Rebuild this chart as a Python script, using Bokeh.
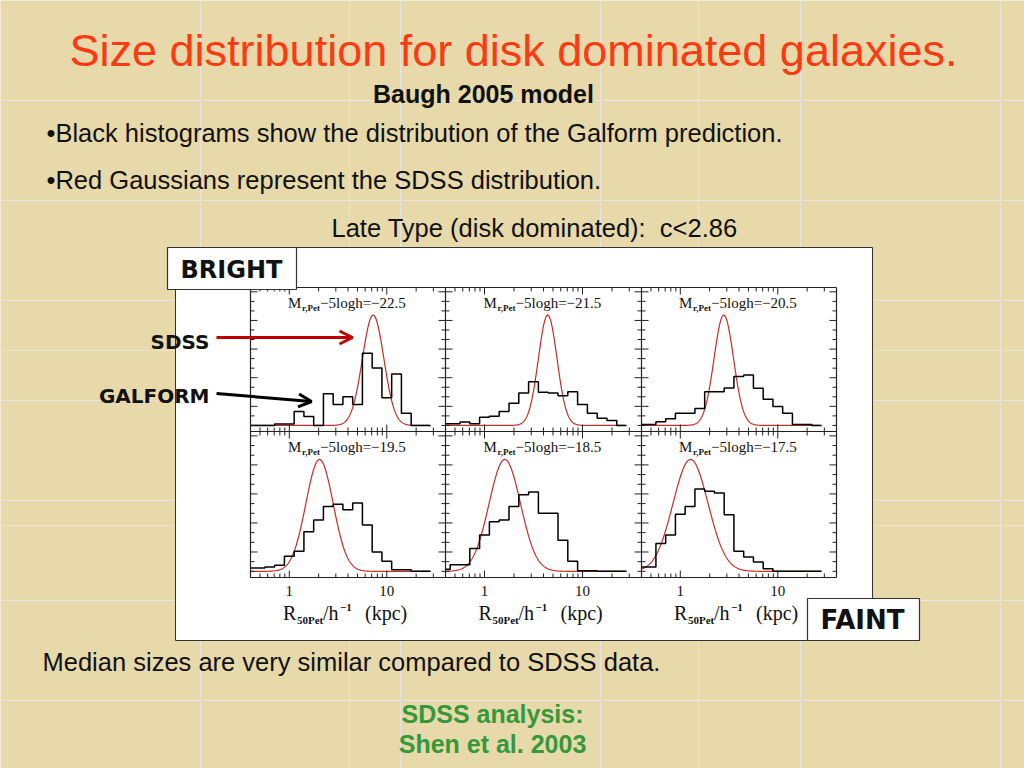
import numpy as np
from bokeh.plotting import figure
from bokeh.models import Range1d, LogScale, Arrow, OpenHead
from bokeh.core.properties import value
from bokeh.embed import file_html
from bokeh.resources import INLINE

# ---------------- data ----------------
magnitude_labels = ["\u221222.5", "\u221221.5", "\u221220.5", "\u221219.5", "\u221218.5", "\u221217.5"]
log_r_bin_centres = [-0.4, -0.3, -0.2, -0.1, 0.0, 0.1, 0.2, 0.3, 0.4, 0.5,
                     0.6, 0.7, 0.8, 0.9, 1.0, 1.1, 1.2, 1.3, 1.4]
log_r_bin_width = 0.1

# GALFORM histograms (relative frequency, SDSS peak = 1)
galform_m225 = [0.0, 0.0, 0.0, 0.012, 0.012, 0.126, 0.081, 0.0, 0.286, 0.189,
                0.261, 0.189, 0.655, 0.52, 0.25, 0.466, 0.111, 0.0, 0.0]
galform_m215 = [0.015, 0.015, 0.03, 0.015, 0.075, 0.084, 0.126, 0.2, 0.294, 0.396,
                0.3, 0.294, 0.27, 0.306, 0.189, 0.111, 0.066, 0.045, 0.0]
galform_m205 = [0.009, 0.009, 0.033, 0.06, 0.111, 0.111, 0.153, 0.306, 0.306, 0.339,
                0.444, 0.456, 0.336, 0.237, 0.171, 0.111, 0.009, 0.009, 0.0]
galform_m195 = [0.03, 0.03, 0.039, 0.054, 0.135, 0.18, 0.354, 0.459, 0.58, 0.6,
                0.55, 0.61, 0.414, 0.174, 0.09, 0.015, 0.015, 0.0, 0.0]
galform_m185 = [0.018, 0.06, 0.06, 0.204, 0.324, 0.444, 0.459, 0.58, 0.685, 0.709,
                0.52, 0.52, 0.279, 0.09, 0.006, 0.006, 0.0, 0.0, 0.0]
galform_m175 = [0.039, 0.039, 0.25, 0.324, 0.51, 0.58, 0.736, 0.715, 0.7, 0.505,
                0.18, 0.129, 0.084, 0.024, 0.0, 0.0, 0.0, 0.0, 0.0]
galform_hists = [galform_m225, galform_m215, galform_m205,
                 galform_m195, galform_m185, galform_m175]

# SDSS Gaussians (in log10 R): peak position, width, height
sdss_peak_log_r = [0.86, 0.645, 0.446, 0.31, 0.207, 0.105]
sdss_sigma_dex = [0.11, 0.095, 0.10, 0.14, 0.16, 0.18]
sdss_peak_height = [1.0, 1.0, 1.0, 1.0, 1.0, 1.0]

x_major_ticks = [1, 10]
x_tick_labels = ["1", "10"]
x_minor_ticks = [0.5, 0.6, 0.7, 0.8, 0.9, 2, 3, 4, 5, 6, 7, 8, 9, 20, 30]

# ---------------- layout / style ----------------
W, H = 1024, 768
X0, Y0 = 0, 0                      # data coords == screen pixels
COL_EDGES = [250, 445, 641, 836]
ROW_EDGES = [287, 431, 577]
X_MIN, X_MAX = 0.4, 40.0
Y_MIN, Y_MAX = -0.055, 1.25
SDSS_X_END = 27.0
Y_TICK_STEP = 0.0865
BASE_SHIFT = 0.33                  # text anchor correction (fraction of font size)

BG = "#e7d9aa"
TITLE_RED = "#ff3a12"
INK = "#111111"
GREEN = "#35983a"
CURVE_RED = "#c0302a"
SANS = value("Liberation Sans")
SERIF = value("Liberation Serif")
COMIC = value("DejaVu Sans")
BODY = 25.5

p = figure(width=W, height=H, x_range=Range1d(X0, X0 + W), y_range=Range1d(Y0 + H, Y0),
           x_axis_location=None, y_axis_location=None, output_backend="svg",
           toolbar_location=None, min_border=0, background_fill_color=BG,
           border_fill_color=BG, outline_line_color=None)


def log_range(a, b):
    lmin, lmax = np.log10(X_MIN), np.log10(X_MAX)
    k = (lmax - lmin) / (b - a)
    return Range1d(10 ** (lmin - (a - X0) * k), 10 ** (lmax + (X0 + W - b) * k))


def lin_range(t, b):
    u = (Y_MAX - Y_MIN) / (b - t)
    return Range1d(Y_MIN - (Y0 + H - b) * u, Y_MAX + (t - Y0) * u)


def txt(xs, baselines, texts, size, **kw):
    ys = [bl - BASE_SHIFT * size for bl in baselines]
    kw.setdefault("text_color", INK)
    p.text(x=xs, y=ys, text=texts, text_font_size=f"{size}px",
           text_baseline="alphabetic", **kw)


p.extra_x_ranges = {f"x{c}": log_range(COL_EDGES[c], COL_EDGES[c + 1]) for c in range(3)}
p.extra_x_scales = {f"x{c}": LogScale() for c in range(3)}
p.extra_y_ranges = {f"y{r}": lin_range(ROW_EDGES[r], ROW_EDGES[r + 1]) for r in range(2)}

# background tile seams
p.segment(x0=[349, 698, 0, 0], y0=[0, 0, 350, 525],
          x1=[349, 698, W, W], y1=[H, H, 350, 525],
          line_color="#f4edd2", line_width=1, line_alpha=0.55)

# white figure box
p.quad(left=[175], right=[872], top=[247], bottom=[640],
       fill_color="white", line_color="#333333", line_width=1)

centres = np.array(log_r_bin_centres)
edges = np.append(centres - log_r_bin_width / 2, centres[-1] + log_r_bin_width / 2)
x_edges = np.clip(10 ** edges, X_MIN, X_MAX)
y_ticks = np.arange(0, Y_MAX, Y_TICK_STEP)

for k in range(6):
    r, c = divmod(k, 3)
    a, b = COL_EDGES[c], COL_EDGES[c + 1]
    t, bt = ROW_EDGES[r], ROW_EDGES[r + 1]
    xr, yr = f"x{c}", f"y{r}"
    cx = (a + b) / 2

    # SDSS Gaussian
    lx = np.linspace(np.log10(X_MIN), np.log10(SDSS_X_END), 400)
    gy = sdss_peak_height[k] * np.exp(-0.5 * ((lx - sdss_peak_log_r[k]) / sdss_sigma_dex[k]) ** 2)
    p.line(10 ** lx, gy, x_range_name=xr, y_range_name=yr,
           line_color=CURVE_RED, line_width=1.2)

    # GALFORM histogram
    hv = list(galform_hists[k]) + [galform_hists[k][-1]]
    p.step(x_edges, hv, mode="after", x_range_name=xr, y_range_name=yr,
           line_color="black", line_width=1.5)

    # x ticks (top pointing down, bottom pointing up)
    for ticks, ln in ((x_major_ticks, 7), (x_minor_ticks, 4)):
        n = len(ticks)
        p.segment(x0=ticks, x1=ticks, y0=[t] * n, y1=[t + ln] * n,
                  x_range_name=xr, line_color="#222222", line_width=1)
        p.segment(x0=ticks, x1=ticks, y0=[bt] * n, y1=[bt - ln] * n,
                  x_range_name=xr, line_color="#222222", line_width=1)
    # y ticks (left and right, pointing in)
    for j, yv in enumerate(y_ticks):
        ln = 7 if j % 3 == 2 else 4
        p.segment(x0=[a, b], x1=[a + ln, b - ln], y0=[yv, yv], y1=[yv, yv],
                  y_range_name=yr, line_color="#222222", line_width=1)

    # panel label  M_{r,Pet} -5logh = mag
    yl = t + 20
    txt([cx - 60], [yl], ["M"], 15, text_font=SERIF)
    txt([cx - 46], [yl + 3], ["r,Pet"], 9, text_font=SERIF, text_font_style="bold")
    txt([cx - 28], [yl], ["\u22125logh=" + magnitude_labels[k]], 15, text_font=SERIF)

    if r == 1:
        p.text(x=x_major_ticks, y=[bt + 18 - BASE_SHIFT * 15] * 2, text=x_tick_labels,
               x_range_name=xr, text_font=SERIF, text_font_size="15px", text_align="center",
               text_baseline="alphabetic", text_color=INK)
        ya = 619
        txt([cx - 65], [ya], ["R"], 20, text_font=SERIF)
        txt([cx - 51], [ya + 4], ["50Pet"], 11, text_font=SERIF, text_font_style="bold")
        txt([cx - 25], [ya], ["/h"], 20, text_font=SERIF)
        txt([cx - 8], [ya - 8], ["\u22121"], 11, text_font=SERIF, text_font_style="bold")
        txt([cx + 17], [ya], ["(kpc)"], 20, text_font=SERIF)

# panel frames
xs_l = [[COL_EDGES[0], COL_EDGES[-1]] for _ in ROW_EDGES] + [[xe, xe] for xe in COL_EDGES]
ys_l = [[ye, ye] for ye in ROW_EDGES] + [[ROW_EDGES[0], ROW_EDGES[-1]] for _ in COL_EDGES]
p.multi_line(xs_l, ys_l, line_color="#222222", line_width=1.2)

# BRIGHT / FAINT boxes
p.quad(left=[167, 807], right=[296, 919], top=[247, 598], bottom=[289, 640],
       fill_color="white", line_color="#333333", line_width=1.2)
txt([231], [277], ["BRIGHT"], 24, text_font=COMIC, text_font_style="bold", text_align="center")
txt([862], [628], ["FAINT"], 26, text_font=COMIC, text_font_style="bold", text_align="center")

# SDSS / GALFORM pointers
txt([209, 209], [348, 402], ["SDSS", "GALFORM"], 20, text_font=COMIC,
    text_font_style="bold", text_align="right")
p.add_layout(Arrow(end=OpenHead(size=13, line_color="#c00000", line_width=3),
                   x_start=216, y_start=337, x_end=352, y_end=337,
                   line_color="#c00000", line_width=3))
p.add_layout(Arrow(end=OpenHead(size=13, line_color="black", line_width=3),
                   x_start=216, y_start=393, x_end=311, y_end=401,
                   line_color="black", line_width=3))

# slide texts
txt([513], [65], ["Size distribution for disk dominated galaxies."], 45,
    text_font=SANS, text_align="center", text_color=TITLE_RED)
txt([483], [102], ["Baugh 2005 model"], 25, text_font=SANS, text_font_style="bold",
    text_align="center")
txt([46, 46], [141, 188],
    ["\u2022Black histograms show the distribution of the Galform prediction.",
     "\u2022Red Gaussians represent the SDSS distribution."], BODY, text_font=SANS)
txt([534], [236], ["Late Type (disk dominated):\u00a0 c<2.86"], BODY, text_font=SANS,
    text_align="center")
txt([42], [670], ["Median sizes are very similar compared to SDSS data."], BODY, text_font=SANS)
txt([492, 492], [722, 752], ["SDSS analysis:", "Shen et al. 2003"], 25, text_font=SANS,
    text_font_style="bold", text_align="center", text_color=GREEN)

open("out.html", "w").write(file_html(p, INLINE, title="Size distribution for disk dominated galaxies"))
